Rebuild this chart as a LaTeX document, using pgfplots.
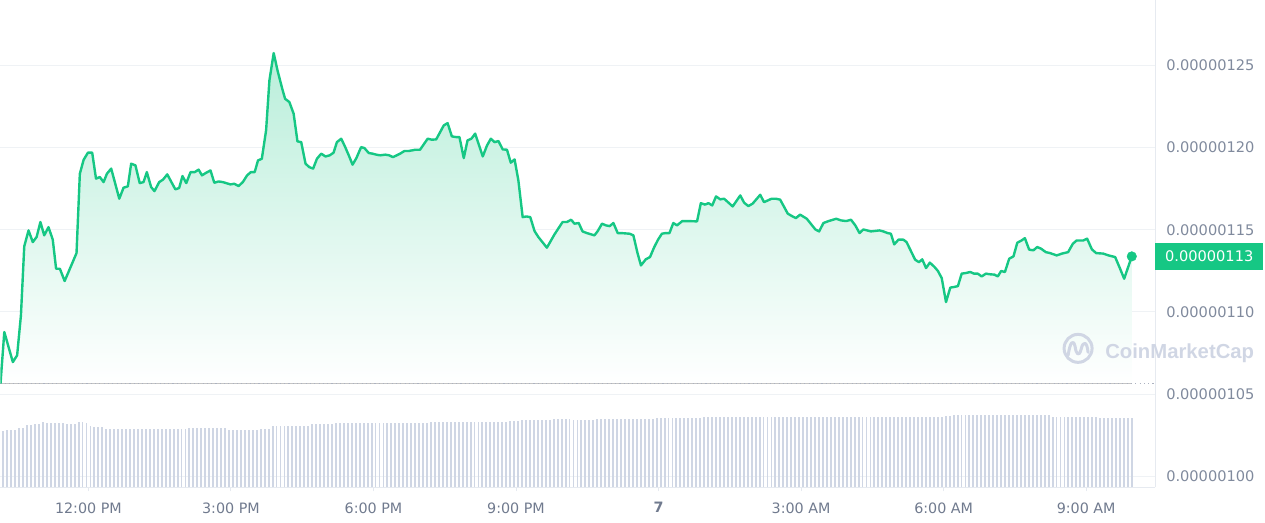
\documentclass[border=0pt]{standalone}
\usepackage{pgfplots}
\pgfplotsset{compat=1.18}
\usepackage{pgfplotstable}
\usepgfplotslibrary{fillbetween}
\usepackage{fontspec}
\setmainfont{DejaVu Sans}
\newfontfamily\wmfont{Liberation Sans}

\definecolor{cmcgreen}{RGB}{22,199,132}
\definecolor{labgray}{RGB}{128,138,157}
\definecolor{xlabgray}{RGB}{112,122,142}
\definecolor{gridgray}{RGB}{239,242,245}
\definecolor{linegray}{RGB}{230,234,240}
\definecolor{volgray}{RGB}{207,214,228}
\definecolor{dotgray}{RGB}{172,178,192}
\definecolor{wmgray}{RGB}{208,214,228}

% price, hours since midnight (12 = 12:00 PM), value in 1e-8
\pgfplotstableread{
h v
10.15 105.64
10.23 108.78
10.41 106.95
10.50 107.36
10.58 109.79
10.65 113.99
10.74 114.96
10.83 114.25
10.91 114.56
10.99 115.47
11.07 114.66
11.16 115.16
11.25 114.40
11.32 112.63
11.40 112.63
11.50 111.88
11.75 113.58
11.82 118.41
11.90 119.26
11.99 119.69
12.08 119.69
12.16 118.11
12.24 118.21
12.32 117.90
12.39 118.41
12.48 118.72
12.65 116.89
12.74 117.56
12.83 117.64
12.90 119.02
12.99 118.92
13.08 117.84
13.16 117.90
13.23 118.51
13.32 117.60
13.39 117.35
13.49 117.90
13.57 118.05
13.66 118.37
13.83 117.46
13.91 117.54
13.98 118.27
14.06 117.84
14.15 118.51
14.24 118.51
14.32 118.66
14.39 118.31
14.48 118.47
14.57 118.61
14.65 117.86
14.74 117.94
14.83 117.90
14.99 117.76
15.07 117.80
15.16 117.66
15.25 117.90
15.34 118.31
15.42 118.51
15.50 118.51
15.57 119.22
15.65 119.32
15.74 121.05
15.81 124.09
15.90 125.75
15.98 124.70
16.08 123.58
16.14 122.97
16.23 122.77
16.32 122.06
16.40 120.38
16.48 120.33
16.57 119.02
16.65 118.81
16.73 118.72
16.81 119.32
16.90 119.63
16.99 119.46
17.08 119.53
17.16 119.69
17.23 120.33
17.32 120.54
17.39 120.13
17.48 119.53
17.56 118.96
17.64 119.36
17.74 120.03
17.81 119.97
17.90 119.67
17.98 119.63
18.06 119.57
18.14 119.53
18.25 119.57
18.33 119.53
18.41 119.42
18.49 119.53
18.56 119.63
18.65 119.79
18.74 119.79
18.88 119.87
18.98 119.87
19.14 120.54
19.23 120.48
19.32 120.50
19.48 121.35
19.56 121.49
19.65 120.68
19.74 120.64
19.81 120.64
19.90 119.36
19.98 120.44
20.06 120.54
20.14 120.85
20.30 119.46
20.39 120.13
20.47 120.54
20.55 120.33
20.63 120.40
20.72 119.89
20.81 119.87
20.89 119.08
20.97 119.28
21.05 118.00
21.14 115.77
21.22 115.81
21.30 115.77
21.39 114.92
21.47 114.56
21.65 113.91
21.81 114.72
21.98 115.47
22.07 115.47
22.16 115.61
22.23 115.37
22.32 115.41
22.40 114.90
22.49 114.80
22.65 114.66
22.72 114.92
22.81 115.37
22.89 115.27
22.97 115.22
23.05 115.41
23.14 114.80
23.21 114.80
23.39 114.76
23.47 114.66
23.56 113.55
23.63 112.83
23.73 113.20
23.82 113.34
23.91 113.95
23.99 114.40
24.07 114.76
24.15 114.80
24.23 114.80
24.31 115.41
24.39 115.27
24.50 115.53
24.61 115.53
24.81 115.51
24.89 116.62
24.98 116.53
25.05 116.62
25.13 116.48
25.21 117.03
25.30 116.85
25.38 116.89
25.56 116.42
25.72 117.09
25.80 116.65
25.89 116.44
25.98 116.59
26.14 117.13
26.22 116.68
26.38 116.89
26.47 116.89
26.56 116.83
26.72 115.98
26.81 115.83
26.89 115.71
26.98 115.92
27.12 115.67
27.30 115.02
27.38 114.90
27.47 115.41
27.58 115.53
27.74 115.67
27.84 115.57
27.95 115.53
28.05 115.61
28.14 115.27
28.23 114.80
28.31 115.02
28.47 114.90
28.65 114.96
28.73 114.90
28.82 114.80
28.89 114.76
28.96 114.11
29.05 114.40
29.15 114.40
29.22 114.25
29.40 113.18
29.48 113.03
29.55 113.20
29.63 112.67
29.71 113.00
29.81 112.73
29.88 112.49
29.96 112.06
30.05 110.60
30.14 111.48
30.22 111.52
30.30 111.57
30.38 112.33
30.47 112.37
30.56 112.43
30.64 112.33
30.72 112.33
30.80 112.16
30.89 112.33
30.98 112.29
31.07 112.27
31.14 112.16
31.21 112.49
31.29 112.43
31.38 113.24
31.47 113.38
31.55 114.21
31.64 114.35
31.71 114.49
31.80 113.79
31.89 113.75
31.97 113.95
32.05 113.85
32.15 113.64
32.24 113.58
32.38 113.44
32.49 113.55
32.62 113.64
32.72 114.15
32.80 114.35
32.94 114.35
33.02 114.46
33.12 113.81
33.21 113.58
33.36 113.55
33.47 113.44
33.61 113.34
33.70 112.73
33.80 112.02
33.96 113.38
}\price

% volume: bar index (5 minutes each) and relative height
\pgfplotstableread{
k vol
0 54.7
1 54.7
2 56.3
3 57.7
4 57.7
5 57.7
6 59.3
7 59.3
8 62
9 62
10 63.3
11 63.3
12 65.3
13 64.7
14 64.7
15 64.7
16 64.7
17 64.7
18 63.3
19 63.3
20 63.3
21 65.3
22 65.3
23 64.3
24 61
25 60
26 60
27 60
28 58.7
29 58
30 58
31 58
32 58
33 58
34 58
35 58
36 58
37 58
38 58
39 58
40 58
41 58
42 58
43 58
44 58
45 58
46 58
47 58
48 58.7
49 59
50 59
51 59
52 59
53 59
54 59
55 59
56 59
57 59
58 59
59 57.3
60 57.3
61 57.3
62 57.3
63 57.3
64 57.3
65 57.3
66 57.3
67 58.7
68 58.7
69 58.7
70 61.7
71 61.7
72 61.7
73 61.7
74 61.7
75 61.7
76 61.7
77 61.7
78 61.7
79 61.7
80 63
81 63
82 63
83 63
84 63
85 63
86 64
87 64
88 64
89 64
90 64
91 64
92 64
93 64
94 64
95 64
96 64
97 64
98 64
99 64
100 64
101 64
102 64
103 64
104 64
105 64
106 64
107 64
108 64
109 64
110 65.3
111 65.3
112 65.3
113 65.3
114 65.3
115 65.3
116 65.3
117 65.3
118 65.3
119 65.3
120 65.3
121 65.3
122 65.3
123 65.3
124 65.3
125 65.3
126 65.3
127 65.3
128 65.3
129 65.3
130 66.3
131 66.3
132 66.3
133 67
134 67
135 67
136 67
137 67
138 67
139 67
140 67
141 68
142 68
143 68
144 68
145 68
146 67
147 67
148 67
149 67
150 67
151 67
152 68.3
153 68.3
154 68.3
155 68.3
156 68.3
157 68.3
158 68.3
159 68.3
160 68.3
161 68.3
162 68.3
163 68.3
164 68.3
165 68.3
166 68.3
167 69
168 69
169 69
170 69
171 69
172 69
173 69
174 69
175 69
176 69
177 69
178 69
179 70
180 70
181 70
182 70
183 70
184 70
185 70
186 70
187 70
188 70
189 70
190 70
191 70
192 70
193 70
194 70
195 70
196 70
197 70
198 70
199 70
200 70
201 70
202 70
203 70
204 70
205 70
206 70
207 70
208 70
209 70
210 70
211 70
212 70
213 70
214 70
215 70
216 70
217 70
218 70
219 70
220 70
221 70
222 70
223 70
224 70
225 70
226 70
227 70
228 70
229 70
230 70
231 70
232 70
233 70
234 70
235 70
236 70
237 70
238 70
239 70
240 71
241 71
242 72.3
243 72.3
244 72.3
245 72.3
246 72.3
247 72.3
248 72.3
249 72.3
250 72.3
251 72.3
252 72.3
253 72.3
254 72.3
255 72.3
256 72.3
257 72.3
258 72.3
259 72.3
260 72.3
261 72.3
262 72.3
263 72.3
264 72.3
265 72.3
266 72.3
267 70
268 70
269 70
270 70
271 70
272 70
273 70
274 70
275 70
276 70
277 70
278 70
279 69
280 69
281 69
282 69
283 69
284 69
285 69
286 69
287 69
}\vol

\begin{document}
\fontsize{14}{16}\selectfont
\begin{tikzpicture}[x=1pt,y=1pt]

\begin{axis}[
    width=1155pt, height=487pt, scale only axis,
    xmin=10.15, xmax=34.45,
    ymin=99.33, ymax=128.95,
    clip mode=individual,
    axis x line*=bottom, axis y line*=right,
    axis line style={-, draw=linegray, line width=1pt},
    xtick={12,15,18,21,24,27,30,33},
    xticklabels={12:00 PM,3:00 PM,6:00 PM,9:00 PM,\textbf{7},3:00 AM,6:00 AM,9:00 AM},
    ytick={100,105,110,115,120,125},
    yticklabels={0.00000100,0.00000105,0.00000110,0.00000115,0.00000120,0.00000125},
    tick align=outside,
    major tick length=4pt,
    xtick style={draw=linegray, line width=1pt},
    ytick style={draw=none},
    ymajorgrids,
    grid style={draw=gridgray, line width=1pt},
    xticklabel style={anchor=north, inner sep=0pt, yshift=-11pt, text=xlabgray, font=\fontsize{14.3}{16}\selectfont},
    yticklabel style={anchor=west, inner sep=0pt, xshift=7pt, text=labgray, font=\fontsize{14.6}{16}\selectfont},
]
\coordinate (boxsw) at (rel axis cs:0,0);
% baseline at the opening price, only used to bound the area
\path[name path=base] (axis cs:10.15,105.64) -- (axis cs:33.96,105.64);
\addplot[name path=price, draw=none, forget plot] table[x=h, y=v] {\price};
\addplot[forget plot, draw=none, top color=cmcgreen!30!white, bottom color=white] fill between[of=price and base];
\addplot[dotgray, line width=1.1pt, dash pattern=on 1.1pt off 3.2pt] coordinates {(10.15,105.64) (34.45,105.64)};
\addplot[cmcgreen, line width=2.4pt, line join=round, mark=none] table[x=h, y=v] {\price};
\addplot[only marks, mark=*, mark size=4.8pt, mark options={fill=cmcgreen, draw=cmcgreen}] coordinates {(33.96,113.38)};
\node[anchor=west, fill=cmcgreen, text=white, minimum width=108pt, minimum height=27pt, inner sep=0pt,
      font=\fontsize{14.6}{16}\selectfont]
    at (axis cs:34.45,113.38) {0.00000113};
\end{axis}

% volume in bar-index units: bar k sits at 10.0433 h + k * 5 min
\begin{axis}[
    at={(boxsw)}, anchor=south west,
    width=1155pt, height=487pt, scale only axis,
    xmin=1.28, xmax=292.88,
    ymin=0, ymax=487,
    hide axis,
]
\addplot[ycomb, volgray, line width=1.9pt, mark=none] table[x=k, y=vol] {\vol};
\end{axis}

% watermark and page frame, measured from the lower left corner of the plot box
\begin{scope}[shift={(boxsw)}]
\begin{scope}[wmgray, line width=3pt, line cap=round, line join=round]
\draw (1078,139) circle (14);
\draw (1068,132) .. controls (1070,145) and (1073,149) .. (1075,141)
      .. controls (1076,133) and (1079,130) .. (1081,138)
      .. controls (1083,147) and (1087,146) .. (1088,135);
\end{scope}
\node[anchor=base west, inner sep=0pt, text=wmgray, font=\wmfont\bfseries\fontsize{20.3}{22}\selectfont]
    at (1105,128.7) {CoinMarketCap};
\path (0,-35) rectangle (1265,487);
\end{scope}
\end{tikzpicture}
\end{document}
